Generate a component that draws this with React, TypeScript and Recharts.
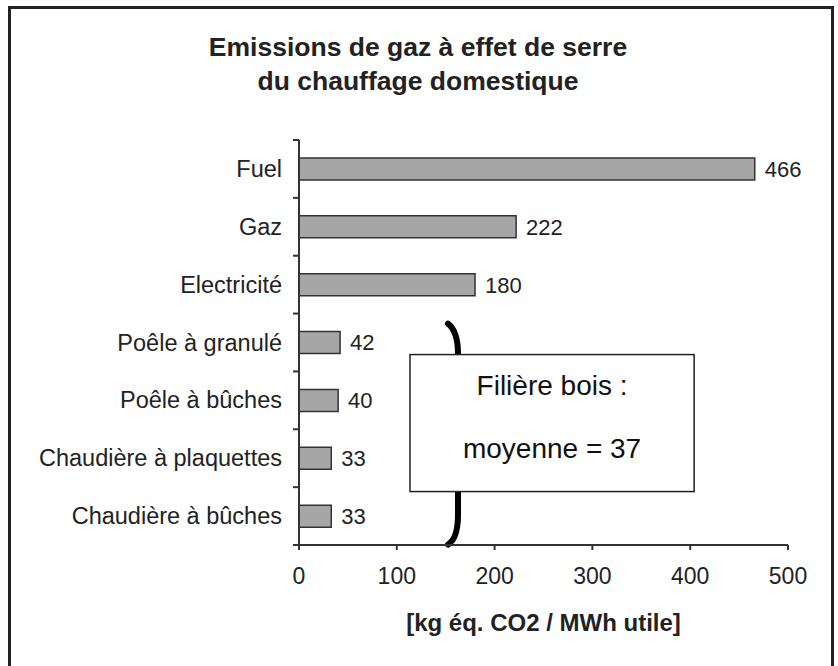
import React from 'react';
import { BarChart, Bar, XAxis, YAxis, LabelList, ReferenceArea } from 'recharts';

const categories = [
  'Fuel',
  'Gaz',
  'Electricité',
  'Poêle à granulé',
  'Poêle à bûches',
  'Chaudière à plaquettes',
  'Chaudière à bûches',
];
const emissions = [466, 222, 180, 42, 40, 33, 33];
const xTicks = [0, 100, 200, 300, 400, 500];
const titleLines = ['Emissions de gaz à effet de serre', 'du chauffage domestique'];
const axisTitle = '[kg éq. CO2 / MWh utile]';
const noteLines = ['Filière bois :', 'moyenne = 37'];

const data = categories.map((name, i) => ({ name, value: emissions[i] }));

const FONT = '"Liberation Sans", Arial, sans-serif';
const TEXT = '#222';
const W = 838;
const H = 666;
const BAND = (545 - 140) / categories.length;

const CategoryTick = (props: any) => {
  const { x, y, payload, index } = props;
  const axisX = x + 17;
  return (
    <g>
      <line x1={axisX - 6} x2={axisX} y1={y - BAND / 2} y2={y - BAND / 2} stroke="#333" strokeWidth={2} />
      {index === categories.length - 1 && (
        <line x1={axisX - 6} x2={axisX} y1={y + BAND / 2} y2={y + BAND / 2} stroke="#333" strokeWidth={2} />
      )}
      <text x={x} y={y} textAnchor="end" dominantBaseline="central" fontSize={23.5} fill={TEXT} fontFamily={FONT}>
        {payload.value}
      </text>
    </g>
  );
};

const WoodNote = (props: any) => {
  const { x, y, width } = props;
  const bx = x + 42;
  const top = y + 10;
  const bottom = y + 231;
  const boxTop = y + 41;
  const boxH = 137;
  return (
    <g>
      <path
        d={`M ${bx - 4} ${top} Q ${bx + 6} ${top + 8} ${bx + 6} ${top + 30} L ${bx + 6} ${bottom - 30} Q ${bx + 6} ${bottom - 6} ${bx - 4} ${bottom}`}
        fill="none"
        stroke="#000"
        strokeWidth={6}
        strokeLinecap="round"
      />
      <rect x={x} y={boxTop} width={width} height={boxH} fill="#fff" stroke="#222" strokeWidth={1.5} />
      <text x={x + width / 2} y={boxTop + 31} textAnchor="middle" dominantBaseline="central" fontSize={28} fill="#111" fontFamily={FONT}>
        {noteLines[0]}
      </text>
      <text x={x + width / 2} y={boxTop + 94} textAnchor="middle" dominantBaseline="central" fontSize={28} fill="#111" fontFamily={FONT}>
        {noteLines[1]}
      </text>
    </g>
  );
};

export default function App() {
  return (
    <div style={{ position: 'absolute', left: 0, top: 0, width: W, height: H, overflow: 'hidden', background: '#fff' }}>
      <div
        style={{
          position: 'absolute',
          left: 8,
          top: 6,
          width: 820,
          height: 660,
          borderLeft: '3px solid #222',
          borderTop: '3px solid #222',
          borderRight: '3px solid #222',
        }}
      />
      <div
        style={{
          position: 'absolute',
          left: 0,
          top: 30,
          width: 836,
          textAlign: 'center',
          fontFamily: FONT,
          fontWeight: 'bold',
          fontSize: 26.5,
          lineHeight: '34px',
          color: TEXT,
        }}
      >
        {titleLines.map((t) => (
          <div key={t}>{t}</div>
        ))}
      </div>
      <div style={{ position: 'absolute', left: 0, top: 0 }}>
        <BarChart
          width={W}
          height={H}
          data={data}
          layout="vertical"
          margin={{ top: 140, right: 50, bottom: 31, left: 10 }}
        >
          <XAxis
            type="number"
            domain={[0, 500]}
            ticks={xTicks}
            stroke="#333"
            strokeWidth={2}
            tickSize={5}
            tickMargin={18}
            height={90}
            tick={{ fill: TEXT, fontSize: 23, fontFamily: FONT }}
            label={{
              value: axisTitle,
              position: 'insideBottom',
              offset: 4,
              fill: TEXT,
              fontSize: 24,
              fontWeight: 'bold',
              fontFamily: FONT,
            }}
          />
          <YAxis
            type="category"
            dataKey="name"
            width={289}
            stroke="#333"
            strokeWidth={2}
            tickLine={false}
            tickSize={6}
            tickMargin={11}
            interval={0}
            tick={<CategoryTick />}
          />
          <Bar dataKey="value" fill="#a6a6a6" stroke="#333" strokeWidth={1.5} barSize={22} isAnimationActive={false}>
            <LabelList dataKey="value" position="right" offset={10} fill={TEXT} fontSize={22} fontFamily={FONT} />
          </Bar>
          <ReferenceArea
            x1={113.5}
            x2={404}
            y1="Poêle à granulé"
            y2="Chaudière à bûches"
            ifOverflow="visible"
            shape={<WoodNote />}
          />
        </BarChart>
      </div>
    </div>
  );
}
